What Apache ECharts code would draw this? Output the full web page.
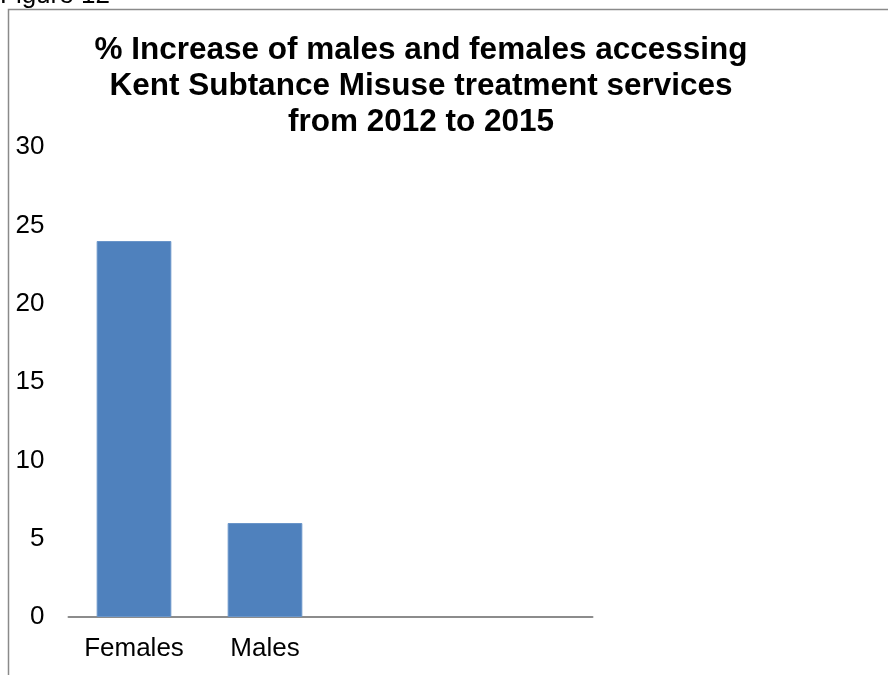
<!DOCTYPE html>
<html>
<head>
<meta charset="utf-8">
<title>Kent Substance Misuse treatment – % increase 2012 to 2015</title>
<script src="https://cdn.jsdelivr.net/npm/echarts@6/dist/echarts.min.js"></script>
<style>
  html, body { margin: 0; padding: 0; background: #ffffff; }
  #chart { width: 888px; height: 675px; }
</style>
</head>
<body>
<div id="chart"></div>
<script>
// Categories on the x axis (two trailing empty slots keep the plot width)
const categories = ['Females', 'Males', '', ''];
// % increase from 2012 to 2015
const increaseValues = [24, 6, null, null];
// Value axis ticks
const yMin = 0;
const yMax = 30;
const yStep = 5;

const FONT = '"Liberation Sans", Arial, sans-serif';

const chart = echarts.init(document.getElementById('chart'), null, { renderer: 'canvas' });

chart.setOption({
  animation: false,
  backgroundColor: '#ffffff',
  title: {
    text: '% Increase of males and females accessing\nKent Subtance Misuse treatment services\nfrom 2012 to 2015',
    left: 421,
    top: 32,
    padding: 0,
    textAlign: 'center',
    textStyle: {
      fontFamily: FONT,
      fontWeight: 'bold',
      fontSize: 31.5,
      lineHeight: 36,
      color: '#000000'
    }
  },
  graphic: [
    {
      type: 'text',
      left: 0,
      top: -17,
      style: {
        text: 'Figure 12',
        font: '26px ' + FONT,
        fill: '#000000'
      }
    },
    {
      type: 'polyline',
      shape: { points: [[8.5, 675], [8.5, 9.5], [888, 9.5]] },
      style: { stroke: '#8a8a8a', lineWidth: 1.5, fill: null }
    }
  ],
  grid: {
    left: 68.5,
    width: 524,
    top: 147,
    height: 470,
    containLabel: false
  },
  xAxis: {
    type: 'category',
    data: categories,
    axisLine: { show: true, lineStyle: { color: '#8c8c8c', width: 2 } },
    axisTick: { show: false },
    axisLabel: {
      fontFamily: FONT,
      fontSize: 26,
      color: '#000000',
      margin: 19,
      interval: 0
    },
    splitLine: { show: false }
  },
  yAxis: {
    type: 'value',
    min: yMin,
    max: yMax,
    interval: yStep,
    axisLine: { show: false },
    axisTick: { show: false },
    splitLine: { show: false },
    axisLabel: {
      fontFamily: FONT,
      fontSize: 26,
      color: '#000000',
      margin: 24
    }
  },
  series: [
    {
      type: 'bar',
      data: increaseValues,
      barWidth: '57%',
      itemStyle: {
        color: '#4f81bd',
        borderColor: '#6a95c9',
        borderWidth: 1
      }
    }
  ]
});
</script>
</body>
</html>
